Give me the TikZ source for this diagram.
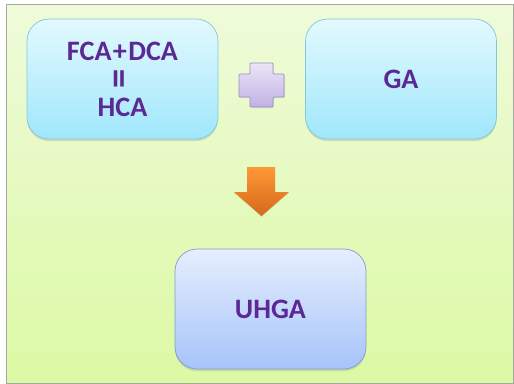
\documentclass[tikz,border=0pt]{standalone}
\usepackage{fontspec}
\setmainfont{Carlito}
\usetikzlibrary{positioning,shadows}

\definecolor{bgtop}{HTML}{EFFBDA}
\definecolor{bgbot}{HTML}{DCF9A4}
\definecolor{cyantop}{HTML}{E3F9FE}
\definecolor{cyanbot}{HTML}{A0E7FC}
\definecolor{cyanline}{HTML}{84C6DA}
\definecolor{bluetop}{HTML}{E6EEFE}
\definecolor{bluebot}{HTML}{A6C4FA}
\definecolor{blueline}{HTML}{7C9ED0}
\definecolor{lilactop}{HTML}{ECE6F8}
\definecolor{lilacbot}{HTML}{C2B0E4}
\definecolor{lilacline}{HTML}{9C8CC4}
\definecolor{orangetop}{HTML}{FF9834}
\definecolor{orangebot}{HTML}{D6681C}
\definecolor{txtpurple}{HTML}{5B2894}

\tikzstyle{box} = [rectangle, rounded corners=0.44cm, minimum width=3.82cm, minimum height=2.4cm, text centered, align=center, text=txtpurple, font=\bfseries\fontsize{16}{16}\selectfont, drop shadow={shadow xshift=0pt, shadow yshift=-1.2pt, opacity=0.25}]
\tikzstyle{boxa} = [box, draw=cyanline, top color=cyantop, bottom color=cyanbot]
\tikzstyle{boxb} = [box, draw=blueline, top color=bluetop, bottom color=bluebot]
\tikzstyle{plussign} = [draw=lilacline, top color=lilactop, bottom color=lilacbot, rounded corners=0.5pt, drop shadow={shadow xshift=0.6pt, shadow yshift=-0.6pt, opacity=0.2}]
\tikzstyle{blockarrow} = [top color=orangetop, bottom color=orangebot, drop shadow={shadow xshift=0pt, shadow yshift=-0.6pt, opacity=0.2}]

\begin{document}
\begin{tikzpicture}[x=0.02cm, y=-0.02cm]
	\useasboundingbox (0,0) rectangle (514,383);
	\fill[white] (0,0) rectangle (514,383);
	\draw[gray!70, top color=bgtop, bottom color=bgbot] (6,4.5) rectangle (513.5,383.5);

	\node (hca) [boxa] at (122.5,79) {FCA\kern0.8pt+\kern0.8pt DCA\\\rotatebox{90}{\fontsize{22}{22}\selectfont=}\\HCA};
	\node (ga) [boxa] at (401,79) {GA};
	\node (uhga) [boxb] at (270.5,309) {UHGA};

	% plus between the two upper boxes
	\path[plussign] (250,63) -- (273,63) -- (273,74) -- (284,74) -- (284,97) -- (273,97)
		-- (273,107) -- (250,107) -- (250,97) -- (239,97) -- (239,74) -- (250,74) -- cycle;

	% block arrow down to uhga
	\path[blockarrow] (247,167) -- (275,167) -- (275,192) -- (289,192) -- (261.5,216)
		-- (234,192) -- (247,192) -- cycle;

\end{tikzpicture}
\end{document}
